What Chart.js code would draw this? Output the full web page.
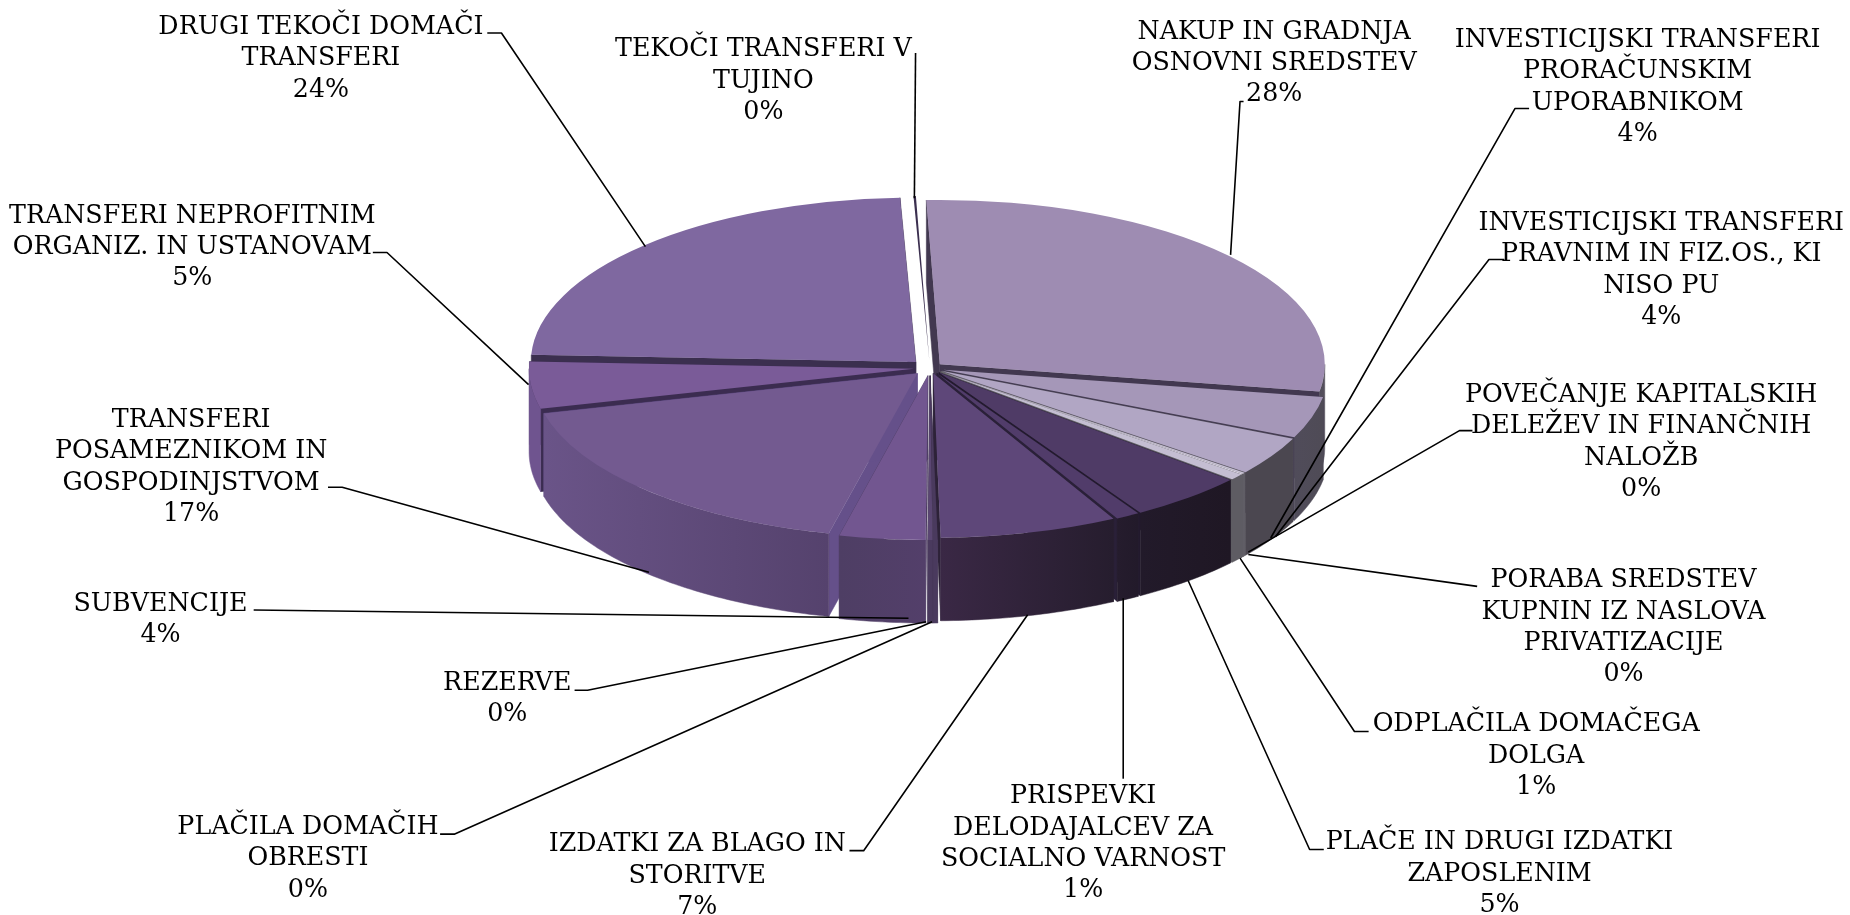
<!DOCTYPE html>
<html><head><meta charset="utf-8">
<style>html,body{margin:0;padding:0;background:#fff}canvas{display:block}</style>
<script src="https://cdn.jsdelivr.net/npm/chart.js@4"></script>
</head><body><canvas id="c" width="1850" height="915"></canvas>
<script>
const categories=[
["NAKUP IN GRADNJA","OSNOVNI SREDSTEV"],
["INVESTICIJSKI TRANSFERI","PRORAČUNSKIM","UPORABNIKOM"],
["INVESTICIJSKI TRANSFERI","PRAVNIM IN FIZ.OS., KI","NISO PU"],
["POVEČANJE KAPITALSKIH","DELEŽEV IN FINANČNIH","NALOŽB"],
["PORABA SREDSTEV","KUPNIN IZ NASLOVA","PRIVATIZACIJE"],
["ODPLAČILA DOMAČEGA","DOLGA"],
["PLAČE IN DRUGI IZDATKI","ZAPOSLENIM"],
["PRISPEVKI","DELODAJALCEV ZA","SOCIALNO VARNOST"],
["IZDATKI ZA BLAGO IN","STORITVE"],
["PLAČILA DOMAČIH","OBRESTI"],
["REZERVE"],
["SUBVENCIJE"],
["TRANSFERI","POSAMEZNIKOM IN","GOSPODINJSTVOM"],
["TRANSFERI NEPROFITNIM","ORGANIZ. IN USTANOVAM"],
["DRUGI TEKOČI DOMAČI","TRANSFERI"],
["TEKOČI TRANSFERI V","TUJINO"]];
const values=[28.2,4.1,3.8,0.1,0.1,0.6,4.9,1.0,7.45,0.2,0.2,3.6,17.4,4.6,23.65,0.1];
const topColors=["#9e8cb2","#a597b8","#b1a6c4","#c8c2d6","#d6d2de","#c4bed2","#4f3b66","#513c6a","#5e4779","#4a3a5e","#5a4672","#725690","#735a90","#7a5b98","#7f68a0","#3b2f4f"];
const cutColors=["#423850","#443c52","#5a5662","#6a6670","#6a6670","#5e5c63","#231a2e","#2a2038","#2d2238","#3a2c48","#3a2c48","#4e3e64","#65508a","#3b2c50","#3b2f4f","#ffffff"];
const wallLeft=["#504c5a","#504c5a","#4b4750","#5e5c63","#5e5c63","#5e5c63","#221a2a","#251c2d","#3a2845","#4a3a5e","#4a3a5e","#4e3e64","#6a5488","#6f548f","#6f548f","#6f548f"];
const wallRight=["#55505c","#4f4b56","#4b4750","#5e5c63","#5e5c63","#5e5c63","#1f1724","#221a2a","#261d2e","#4a3a5e","#4a3a5e","#533f6a","#55426d","#6f548f","#6f548f","#6f548f"];
const explode=[13,14,14,14,14,14,14,14,13,18,18,18,18,16,20,18];
const labelLayout=[
{x:1080,y:25,lead:[[1054,86],[1051,86],[1043,216]]},
{x:1388,y:32,lead:[[1296,92],[1284,92],[1077,456]]},
{x:1408,y:187,lead:[[1275,220],[1262,220],[1081,455]]},
{x:1391,y:333,lead:[[1248,365],[1237,365],[1058,468]]},
{x:1376,y:490,lead:[[1252,497],[1058,470]]},
{x:1302,y:612,lead:[[1160,620],[1148,620],[1051,473]]},
{x:1271,y:712,lead:[[1122,720],[1110,720],[1007,492]]},
{x:918,y:673,lead:[[952,660],[952,507]]},
{x:591,y:714,lead:[[720,721],[732,721],[871,521]]},
{x:261,y:699,lead:[[373,707],[385,707],[790,527]]},
{x:430,y:577,lead:[[487,585],[498,585],[785,527]]},
{x:136,y:510,lead:[[215,517],[770,524]]},
{x:162,y:354,lead:[[278,413],[290,413],[550,485]]},
{x:163,y:181,lead:[[316,214],[328,214],[448,326]]},
{x:272,y:21,lead:[[413,28],[425,28],[547,209]]},
{x:647,y:40,lead:[[776,45],[775,168]]}];
const S=1850/1568, CX=930, CY=368, K=0.427, DEPTH=83, LINE=31.4, TEXT_DY=2.5;
const pieceTotal=values.reduce((a,b)=>a+b,0);

function faceGeom(el,i){
  const p=el.getProps(['startAngle','endAngle','outerRadius'],true);
  const mid=(p.startAngle+p.endAngle)/2, off=explode[i];
  return {s:p.startAngle,e:p.endAngle,r:p.outerRadius,mid,
    ax:CX+off*Math.cos(mid), ay:CY+K*off*Math.sin(mid)};
}
const pseudo3d={
 id:'pseudo3d',
 beforeDatasetDraw(chart){
  const ctx=chart.ctx, meta=chart.getDatasetMeta(0);
  const c0x=chart.chartArea.left+chart.chartArea.width/2, c0y=chart.chartArea.top+chart.chartArea.height/2;
  const items=meta.data.map((el,i)=>({i,g:faceGeom(el,i)})).sort((a,b)=>Math.sin(a.g.mid)-Math.sin(b.g.mid));
  for(const {i,g} of items){
    const pt=t=>[g.ax+g.r*Math.cos(t), g.ay+K*g.r*Math.sin(t)];
    ctx.fillStyle=cutColors[i]; ctx.strokeStyle=cutColors[i]; ctx.lineWidth=0.5;
    for(const t of [g.s,g.e]){
      const q=pt(t);
      ctx.beginPath();ctx.moveTo(g.ax,g.ay);ctx.lineTo(q[0],q[1]);ctx.lineTo(q[0],q[1]+DEPTH);ctx.lineTo(g.ax,g.ay+DEPTH);ctx.closePath();ctx.fill();ctx.stroke();
    }
    const tw=Math.PI*2;
    const ranges=[[0,Math.PI],[tw,tw+Math.PI],[-tw,-Math.PI]];
    for(const [lo,hi] of ranges){
      const s=Math.max(g.s,lo), e=Math.min(g.e,hi);
      if(e<=s) continue;
      const N=Math.max(4,Math.ceil((e-s)*60));
      const p0=pt(s), p1=pt(e);
      const gr=ctx.createLinearGradient(Math.min(p0[0],p1[0]),0,Math.max(p0[0],p1[0])+0.01,0);
      gr.addColorStop(0,wallLeft[i]);gr.addColorStop(1,wallRight[i]);
      ctx.fillStyle=gr;ctx.strokeStyle=gr;
      ctx.beginPath();
      for(let n=0;n<=N;n++){const q=pt(s+(e-s)*n/N);n?ctx.lineTo(q[0],q[1]):ctx.moveTo(q[0],q[1]);}
      for(let n=N;n>=0;n--){const q=pt(s+(e-s)*n/N);ctx.lineTo(q[0],q[1]+DEPTH);}
      ctx.closePath();ctx.fill();ctx.stroke();
    }
  }
  meta.data.forEach((el,i)=>{
    const mid=(el.startAngle+el.endAngle)/2;
    el.x=c0x+explode[i]*Math.cos(mid);
    el.y=c0y+explode[i]*Math.sin(mid);
  });
  ctx.save();
  ctx.translate(CX,CY);ctx.scale(1,K);ctx.translate(-c0x,-c0y);
 },
 afterDatasetDraw(chart){chart.ctx.restore();},
 afterDraw(chart){
  const ctx=chart.ctx;
  ctx.save();
  ctx.strokeStyle='#000';ctx.lineWidth=1.6;ctx.lineJoin='round';
  labelLayout.forEach(l=>{
    ctx.beginPath();
    l.lead.forEach((p,n)=>{n?ctx.lineTo(p[0]*S,p[1]*S):ctx.moveTo(p[0]*S,p[1]*S);});
    ctx.stroke();
  });
  ctx.fillStyle='#000';ctx.textAlign='center';ctx.textBaseline='middle';
  ctx.font='25.3px "DejaVu Serif"';
  chart.data.labels.forEach((lines,i)=>{
    const l=labelLayout[i];
    const all=[...lines,Math.round(chart.data.datasets[0].data[i]/pieceTotal*100)+'%'];
    all.forEach((t,n)=>ctx.fillText(t,l.x*S,l.y*S+n*LINE+TEXT_DY));
  });
  ctx.restore();
 }
};
new Chart(document.getElementById('c'),{
 type:'pie',
 data:{labels:categories,datasets:[{data:values,backgroundColor:topColors,borderWidth:0,hoverOffset:0,clip:false,radius:385}]},
 options:{responsive:false,animation:false,rotation:-2,layout:{padding:0},
  plugins:{legend:{display:false},tooltip:{enabled:false}},events:[]},
 plugins:[pseudo3d]
});
</script></body></html>
